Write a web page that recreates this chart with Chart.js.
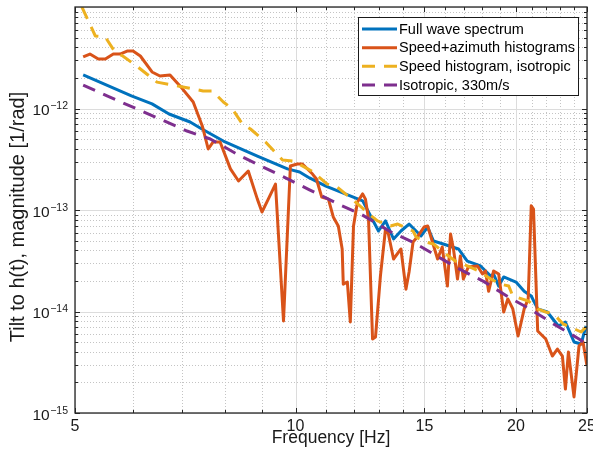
<!DOCTYPE html>
<html>
<head>
<meta charset="utf-8">
<script src="https://cdn.jsdelivr.net/npm/chart.js@4.4.1/dist/chart.umd.min.js"></script>
<style>
  html, body { margin: 0; padding: 0; background: #fff; }
  #wrap { width: 593px; height: 460px; position: relative; }
</style>
</head>
<body>
<div id="wrap"><canvas id="c" width="593" height="460"></canvas></div>
<script>
// ---- Data ----
const seriesNames = ['Full wave spectrum', 'Speed+azimuth histograms', 'Speed histogram, isotropic', 'Isotropic, 330m/s'];
const xAxisTitle = 'Frequency [Hz]';
const yAxisTitle = 'Tilt to h(t), magnitude [1/rad]';

const fullWaveFreq = [5.13, 5.97, 6.37, 6.72, 7.18, 7.41, 7.97, 8.87, 9.75, 10.13, 10.45, 11.0, 12.35, 12.58, 12.98, 13.27, 13.61, 13.93, 14.29, 14.61, 14.84, 15.15, 15.43, 15.91, 16.69, 17.16, 17.89, 18.47, 18.64, 18.94, 19.24, 20.0, 20.52, 20.98, 21.41, 22.07, 22.85, 23.36, 24.0, 24.54, 24.92];
const fullWaveMag = [2.14e-12, 1.33e-12, 1.11e-12, 8.83e-13, 7.36e-13, 6.43e-13, 4.78e-13, 3.40e-13, 2.54e-13, 2.37e-13, 2.07e-13, 1.72e-13, 1.23e-13, 9.56e-14, 6.21e-14, 7.80e-14, 5.18e-14, 6.21e-14, 7.27e-14, 6.21e-14, 5.55e-14, 6.80e-14, 4.95e-14, 4.62e-14, 4.13e-14, 3.14e-14, 2.81e-14, 2.24e-14, 2.34e-14, 1.78e-14, 2.19e-14, 1.95e-14, 1.58e-14, 1.42e-14, 1.06e-14, 9.89e-15, 7.20e-15, 7.88e-15, 5.01e-15, 4.78e-15, 7.20e-15];

const speedAzFreq = [5.13, 5.24, 5.38, 5.50, 5.64, 5.76, 5.89, 6.00, 6.14, 6.37, 6.53, 6.74, 6.96, 7.25, 7.46, 7.60, 7.72, 7.89, 8.15, 8.36, 8.62, 8.87, 9.00, 9.18, 9.39, 9.63, 9.84, 10.06, 10.22, 10.55, 10.68, 10.86, 11.09, 11.26, 11.44, 11.58, 11.62, 11.77, 11.88, 12.0, 12.15, 12.35, 12.46, 12.58, 12.74, 12.86, 13.06, 13.27, 13.39, 13.61, 13.93, 14.15, 14.29, 14.47, 14.70, 14.98, 15.15, 15.38, 15.63, 15.86, 16.12, 16.28, 16.43, 16.64, 16.79, 16.95, 17.21, 17.72, 18.0, 18.17, 18.35, 18.64, 18.94, 19.24, 19.49, 19.80, 20.13, 20.52, 20.78, 20.98, 21.13, 21.41, 21.96, 22.42, 22.78, 23.14, 23.36, 23.58, 24.0, 24.38, 24.69, 25.0];
const speedAzMag = [3.22e-12, 3.44e-12, 3.07e-12, 3.07e-12, 3.44e-12, 3.44e-12, 3.68e-12, 3.68e-12, 3.29e-12, 2.29e-12, 2.09e-12, 2.14e-12, 1.66e-12, 1.16e-12, 6.73e-13, 3.99e-13, 4.68e-13, 4.68e-13, 2.54e-13, 1.93e-13, 2.42e-13, 1.28e-13, 9.56e-14, 1.28e-13, 1.80e-13, 8.06e-15, 2.71e-13, 2.84e-13, 2.84e-13, 2.26e-13, 2.02e-13, 1.34e-13, 1.28e-13, 8.54e-14, 6.96e-14, 4.13e-14, 1.86e-14, 1.95e-14, 7.88e-15, 6.96e-14, 1.20e-13, 1.44e-13, 1.28e-13, 8.16e-14, 5.36e-15, 5.61e-15, 2.24e-14, 6.50e-14, 5.80e-14, 3.29e-14, 4.13e-14, 1.66e-14, 2.45e-14, 4.84e-14, 5.55e-14, 6.80e-14, 6.96e-14, 4.84e-14, 3.29e-14, 4.32e-14, 1.78e-14, 5.80e-14, 4.13e-14, 2.09e-14, 3.52e-14, 2.09e-14, 2.74e-14, 2.81e-14, 2.34e-14, 2.51e-14, 1.58e-14, 2.51e-14, 2.34e-14, 9.89e-15, 1.33e-14, 1.06e-14, 5.74e-15, 1.06e-14, 1.33e-14, 1.10e-13, 1.02e-13, 6.43e-15, 5.36e-15, 3.64e-15, 4.27e-15, 3.64e-15, 1.72e-15, 3.99e-15, 1.44e-15, 4.57e-15, 5.01e-15, 2.90e-15];

const speedIsoFreq = [5.11, 5.33, 5.50, 5.67, 5.81, 6.07, 6.47, 7.02, 7.48, 7.70, 7.97, 8.20, 8.46, 8.68, 9.10, 9.60, 9.93, 10.52, 11.05, 11.40, 12.07, 12.74, 12.94, 13.48, 13.79, 14.47, 14.61, 15.05, 15.43, 16.17, 16.53, 17.32, 17.77, 18.47, 19.06, 19.55, 19.80, 20.78, 21.41, 21.96, 22.5, 23.2, 23.72, 24.54, 24.92];
const speedIsoMag = [1.0e-11, 5.18e-12, 5.06e-12, 3.60e-12, 3.29e-12, 2.62e-12, 1.82e-12, 1.63e-12, 1.49e-12, 1.49e-12, 1.16e-12, 9.9e-13, 7.04e-13, 6.28e-13, 4.68e-13, 3.11e-13, 3.04e-13, 2.42e-13, 1.80e-13, 1.68e-13, 1.20e-13, 8.54e-14, 7.80e-14, 6.96e-14, 7.27e-14, 6.21e-14, 5.42e-14, 4.84e-14, 4.62e-14, 3.52e-14, 3.14e-14, 2.74e-14, 2.51e-14, 2.09e-14, 1.86e-14, 1.78e-14, 1.42e-14, 1.27e-14, 1.06e-14, 9.89e-15, 9.45e-15, 7.53e-15, 7.04e-15, 6.28e-15, 7.04e-15];

const iso330Freq = [5.13, 5.53, 6.53, 7.11, 7.65, 8.41, 9.63, 10.45, 11.51, 12.27, 13.48, 14.52, 15.43, 16.64, 18.06, 19.49, 20.98, 22.5, 24.38, 25.0];
const iso330Mag = [1.70e-12, 1.33e-12, 7.88e-13, 6.00e-13, 5.01e-13, 3.40e-13, 2.12e-13, 1.58e-13, 1.12e-13, 9.14e-14, 6.10e-14, 4.75e-14, 3.68e-14, 2.68e-14, 1.98e-14, 1.40e-14, 1.04e-14, 7.55e-15, 5.36e-15, 4.75e-15];

const xMajorTicks = [5, 10, 15, 20, 25];
const xMinorTicks = [6, 7, 8, 9, 11, 12, 13, 14, 16, 17, 18, 19, 21, 22, 23, 24];
const yDecadeExps = [-15, -14, -13, -12, -11];
const yLabelExps = [-15, -14, -13, -12];

const colors = ['#0072BD', '#D95319', '#EDB120', '#7E2F8E'];
const dashes = [[], [], [13, 9], [13, 9]];

function pts(xs, ys) { return xs.map((x, i) => ({ x: x, y: ys[i] })); }

const FONT = '"Liberation Sans", Arial, Helvetica, sans-serif';
const AX = '#262626';

const matlabPlugin = {
  id: 'matlab',
  beforeDatasetsDraw(chart) {
    const { ctx, chartArea: a, scales: { x, y } } = chart;
    ctx.save();
    ctx.strokeStyle = '#c4c4c4';
    ctx.lineWidth = 1;
    ctx.setLineDash([1, 2]);
    ctx.beginPath();
    xMinorTicks.forEach(v => { const px = Math.round(x.getPixelForValue(v)) + 0.5; ctx.moveTo(px, a.top); ctx.lineTo(px, a.bottom); });
    for (let e = -15; e < -11; e++) {
      for (let m = 2; m <= 9; m++) {
        const py = Math.round(y.getPixelForValue(m * Math.pow(10, e))) + 0.5;
        ctx.moveTo(a.left, py); ctx.lineTo(a.right, py);
      }
    }
    ctx.stroke();
    ctx.setLineDash([]);
    ctx.strokeStyle = '#dcdcdc';
    ctx.beginPath();
    xMajorTicks.forEach(v => { const px = Math.round(x.getPixelForValue(v)) + 0.5; ctx.moveTo(px, a.top); ctx.lineTo(px, a.bottom); });
    yDecadeExps.forEach(e => { const py = Math.round(y.getPixelForValue(Math.pow(10, e))) + 0.5; ctx.moveTo(a.left, py); ctx.lineTo(a.right, py); });
    ctx.stroke();
    ctx.restore();
  },
  afterDraw(chart) {
    const { ctx, chartArea: a, scales: { x, y } } = chart;
    ctx.save();
    ctx.strokeStyle = AX;
    ctx.lineWidth = 1;
    ctx.beginPath();
    const tx = (v, len) => { const px = Math.round(x.getPixelForValue(v)) + 0.5; ctx.moveTo(px, a.bottom); ctx.lineTo(px, a.bottom - len); ctx.moveTo(px, a.top); ctx.lineTo(px, a.top + len); };
    xMajorTicks.forEach(v => tx(v, 5));
    xMinorTicks.forEach(v => tx(v, 3));
    const ty = (v, len) => { const py = Math.round(y.getPixelForValue(v)) + 0.5; ctx.moveTo(a.left, py); ctx.lineTo(a.left + len, py); ctx.moveTo(a.right, py); ctx.lineTo(a.right - len, py); };
    for (let e = -15; e < -11; e++) {
      ty(Math.pow(10, e), 5);
      for (let m = 2; m <= 9; m++) ty(m * Math.pow(10, e), 3);
    }
    ctx.stroke();
    ctx.lineWidth = 1.3;
    ctx.strokeRect(a.left, a.top, a.right - a.left, a.bottom - a.top);
    // y tick labels 10^n
    ctx.fillStyle = '#1a1a1a';
    yLabelExps.forEach(e => {
      const py = y.getPixelForValue(Math.pow(10, e));
      const expTxt = '\u2212' + String(-e);
      ctx.font = '10.5px ' + FONT;
      ctx.textAlign = 'right';
      ctx.textBaseline = 'alphabetic';
      const expW = ctx.measureText(expTxt).width;
      const right = a.left - 7;
      ctx.fillText(expTxt, right, py + 0.5);
      ctx.font = '15.5px ' + FONT;
      ctx.fillText('10', right - expW - 0.5, py + 6.5);
    });
    // y axis title
    ctx.save();
    ctx.translate(18, 217);
    ctx.rotate(-Math.PI / 2);
    ctx.font = '20px ' + FONT;
    ctx.textAlign = 'center';
    ctx.textBaseline = 'middle';
    ctx.fillStyle = '#1a1a1a';
    ctx.fillText(yAxisTitle, 0, 0);
    ctx.restore();
    // legend
    const lx = 358.5, ly = 17.5, lw = 220, lh = 78;
    ctx.fillStyle = '#fff';
    ctx.fillRect(lx, ly, lw, lh);
    ctx.strokeStyle = '#1a1a1a';
    ctx.lineWidth = 1;
    ctx.strokeRect(lx, ly, lw, lh);
    const rows = [29, 47.7, 66.3, 85];
    chart.data.datasets.forEach((ds, i) => {
      const ry = rows[i];
      ctx.strokeStyle = ds.borderColor;
      ctx.lineWidth = 3;
      ctx.setLineDash(ds.borderDash || []);
      ctx.beginPath();
      ctx.moveTo(362, ry); ctx.lineTo(397, ry);
      ctx.stroke();
      ctx.setLineDash([]);
      ctx.fillStyle = '#000';
      ctx.font = '14.5px ' + FONT;
      ctx.textAlign = 'left';
      ctx.textBaseline = 'middle';
      ctx.fillText(ds.label, 399, ry + 0.5);
    });
    ctx.restore();
  }
};

const datasets = [
  { label: seriesNames[0], data: pts(fullWaveFreq, fullWaveMag), order: 4 },
  { label: seriesNames[1], data: pts(speedAzFreq, speedAzMag), order: 3 },
  { label: seriesNames[2], data: pts(speedIsoFreq, speedIsoMag), order: 2 },
  { label: seriesNames[3], data: pts(iso330Freq, iso330Mag), order: 1 }
].map((d, i) => Object.assign(d, {
  borderColor: colors[i], backgroundColor: colors[i], borderWidth: 3,
  borderDash: dashes[i], pointRadius: 0, fill: false, tension: 0,
  borderJoinStyle: 'round', borderCapStyle: 'butt'
}));

new Chart(document.getElementById('c'), {
  type: 'line',
  data: { datasets },
  options: {
    responsive: false,
    animation: false,
    devicePixelRatio: 1,
    layout: { padding: { top: 7, right: 6, left: 0, bottom: 0 } },
    plugins: { legend: { display: false }, tooltip: { enabled: false } },
    scales: {
      x: {
        type: 'logarithmic', min: 5, max: 25,
        grid: { display: false, drawTicks: false }, border: { display: false },
        afterBuildTicks: s => { s.ticks = xMajorTicks.concat(xMinorTicks).sort((p, q) => p - q).map(v => ({ value: v })); },
        afterFit: s => { s.height = 47; s.paddingLeft = 0; s.paddingRight = 0; },
        ticks: {
          autoSkip: false, maxRotation: 0, padding: 4, color: '#1a1a1a',
          font: { family: FONT, size: 16 },
          callback: v => xMajorTicks.includes(v) ? String(v) : ''
        },
        title: { display: true, text: xAxisTitle, color: '#1a1a1a', font: { family: FONT, size: 17.5 }, padding: { top: 0, bottom: 11 } }
      },
      y: {
        type: 'logarithmic', min: 1e-15, max: 1e-11,
        grid: { display: false, drawTicks: false }, border: { display: false },
        afterBuildTicks: s => { s.ticks = yDecadeExps.map(e => ({ value: Math.pow(10, e) })); },
        afterFit: s => { s.width = 75; s.paddingTop = 0; s.paddingBottom = 0; },
        ticks: { display: false },
        title: { display: false }
      }
    }
  },
  plugins: [matlabPlugin]
});
</script>
</body>
</html>
